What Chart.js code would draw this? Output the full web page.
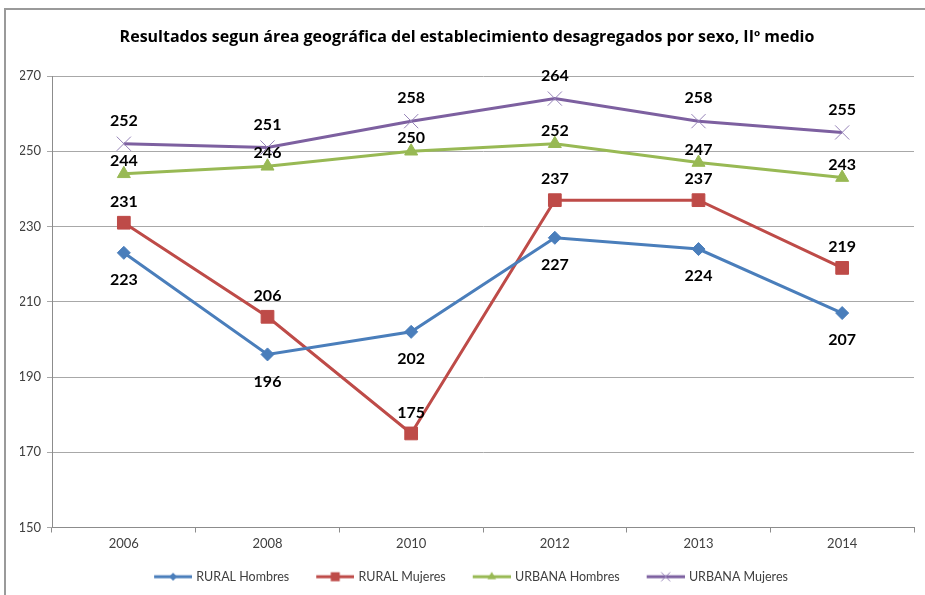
<!DOCTYPE html>
<html>
<head>
<meta charset="utf-8">
<script src="https://cdn.jsdelivr.net/npm/chart.js@4/dist/chart.umd.min.js"></script>
<style>
  html, body { margin: 0; padding: 0; background: #ffffff; overflow: hidden; }
  #wrap { position: absolute; left: 0; top: 0; width: 942px; height: 595px; }
</style>
</head>
<body>
<div id="wrap"><canvas id="c" width="942" height="595"></canvas></div>
<script>
// ---- data ----
const categories = ['2006', '2008', '2010', '2012', '2013', '2014'];
const ruralHombres = [223, 196, 202, 227, 224, 207];
const ruralMujeres = [231, 206, 175, 237, 237, 219];
const urbanaHombres = [244, 246, 250, 252, 247, 243];
const urbanaMujeres = [252, 251, 258, 264, 258, 255];
const seriesNames = ['RURAL Hombres', 'RURAL Mujeres', 'URBANA Hombres', 'URBANA Mujeres'];
const yMin = 150, yMax = 270, yStep = 20;
const chartTitle = 'Resultados segun área geográfica del establecimiento desagregados por sexo, IIº medio';

// ---- styles ----
const FONT = 'Lato, "Open Sans", "Liberation Sans", sans-serif';
const TITLE_FONT = '"Open Sans", Lato, "Liberation Sans", sans-serif';
const colors = ['#4A7EBB', '#BE4B48', '#98B954', '#7D60A0'];
const pointColors = ['#4A7EBB', '#BE4B48', '#98B954', '#9683B8'];
const markerStyles = [
  {style: 'rectRot', radius: 6.5, border: 1},
  {style: 'rect', radius: 9, border: 1},
  {style: 'triangle', radius: 7.5, border: 1},
  {style: 'crossRot', radius: 10, border: 1}
];
const labelOffsets = [27, -21, -13, -23];

function legendImage(i) {
  const w = 48, h = 14;
  const cv = document.createElement('canvas');
  cv.width = w; cv.height = h;
  const c = cv.getContext('2d');
  const cy = h / 2, x0 = 10, x1 = 48, cx = (x0 + x1) / 2;
  c.strokeStyle = colors[i]; c.lineWidth = 3;
  c.beginPath(); c.moveTo(x0, cy); c.lineTo(x1, cy); c.stroke();
  c.fillStyle = colors[i];
  c.lineWidth = 1;
  c.beginPath();
  if (i === 0) {
    const r = 4;
    c.moveTo(cx, cy - r); c.lineTo(cx + r, cy); c.lineTo(cx, cy + r); c.lineTo(cx - r, cy); c.closePath(); c.fill();
  } else if (i === 1) {
    c.rect(cx - 4.5, cy - 4.5, 9, 9); c.fill();
  } else if (i === 2) {
    const r = 5;
    c.moveTo(cx, cy - r); c.lineTo(cx + r * 0.866, cy + r / 2); c.lineTo(cx - r * 0.866, cy + r / 2); c.closePath(); c.fill();
  } else {
    const r = 4.5;
    c.strokeStyle = pointColors[i];
    c.moveTo(cx - r, cy - r); c.lineTo(cx + r, cy + r); c.moveTo(cx + r, cy - r); c.lineTo(cx - r, cy + r); c.stroke();
  }
  return cv;
}

const seriesValues = [ruralHombres, ruralMujeres, urbanaHombres, urbanaMujeres];
const datasets = seriesValues.map((vals, i) => ({
  label: seriesNames[i],
  data: vals,
  borderColor: colors[i],
  backgroundColor: colors[i],
  borderWidth: 3,
  tension: 0,
  fill: false,
  pointStyle: markerStyles[i].style,
  pointRadius: markerStyles[i].radius,
  pointHoverRadius: markerStyles[i].radius,
  pointBackgroundColor: pointColors[i],
  pointBorderColor: pointColors[i],
  pointBorderWidth: markerStyles[i].border
}));

const frameAndLabels = {
  id: 'frameAndLabels',
  beforeDraw(chart) {
    const ctx = chart.ctx;
    ctx.save();
    ctx.fillStyle = '#ffffff';
    ctx.fillRect(0, 0, chart.width, chart.height);
    ctx.strokeStyle = '#9a9a9a';
    ctx.lineWidth = 2;
    ctx.beginPath();
    ctx.moveTo(5, chart.height + 10);
    ctx.lineTo(5, 9);
    ctx.lineTo(chart.width + 10, 9);
    ctx.stroke();
    ctx.restore();
  },
  afterDatasetsDraw(chart) {
    const ctx = chart.ctx;
    ctx.save();
    ctx.font = 'bold 16px ' + FONT;
    ctx.fillStyle = '#000000';
    ctx.textAlign = 'center';
    ctx.textBaseline = 'middle';
    chart.data.datasets.forEach((ds, i) => {
      const meta = chart.getDatasetMeta(i);
      meta.data.forEach((pt, j) => {
        ctx.fillText(String(ds.data[j]), pt.x, pt.y + labelOffsets[i]);
      });
    });
    ctx.restore();
  }
};

new Chart(document.getElementById('c'), {
  type: 'line',
  data: { labels: categories, datasets: datasets },
  options: {
    responsive: false,
    animation: false,
    devicePixelRatio: 1,
    layout: { padding: { left: 20, right: 28, top: 0, bottom: 2 } },
    plugins: {
      tooltip: { enabled: false },
      title: {
        display: true,
        text: chartTitle,
        color: '#000000',
        font: { family: TITLE_FONT, size: 16, weight: 'bold', lineHeight: 1.2 },
        padding: { top: 27.5, bottom: 29.3 }
      },
      legend: {
        display: true,
        position: 'bottom',
        labels: {
          usePointStyle: true,
          pointStyleWidth: 44,
          padding: 19,
          color: '#404040',
          font: { family: FONT, size: 12.5 },
          generateLabels(chart) {
            return chart.data.datasets.map((ds, i) => ({
              text: ds.label,
              pointStyle: legendImage(i),
              fillStyle: colors[i],
              strokeStyle: colors[i],
              lineWidth: 0,
              hidden: false,
              datasetIndex: i,
              fontColor: '#404040'
            }));
          }
        }
      }
    },
    scales: {
      x: {
        type: 'category',
        offset: true,
        afterFit(scale) { scale.height = 24; },
        grid: { display: true, offset: true, drawOnChartArea: false, tickLength: 5, color: '#8c8c8c', lineWidth: 1 },
        border: { display: true, color: '#8c8c8c', width: 1 },
        ticks: { color: '#404040', font: { family: FONT, size: 13 }, padding: 4, maxRotation: 0 }
      },
      y: {
        min: yMin,
        max: yMax,
        afterFit(scale) { scale.width = 32; },
        ticks: { stepSize: yStep, color: '#404040', font: { family: FONT, size: 13 }, padding: 6 },
        grid: { color: '#a8a8a8', lineWidth: 1, tickLength: 5 },
        border: { display: true, color: '#8c8c8c', width: 1 }
      }
    }
  },
  plugins: [frameAndLabels]
});
</script>
</body>
</html>
